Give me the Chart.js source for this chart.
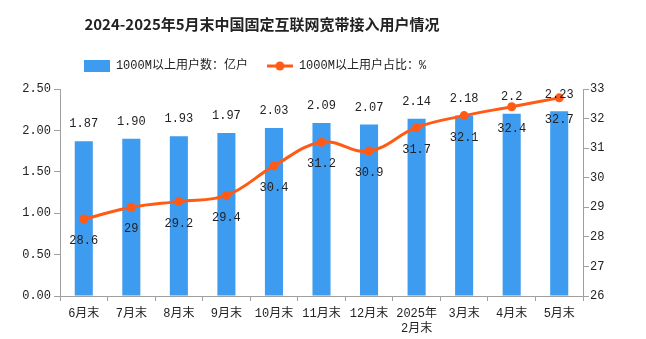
<!DOCTYPE html>
<html>
<head>
<meta charset="utf-8">
<script src="https://cdn.jsdelivr.net/npm/chart.js@4/dist/chart.umd.min.js"></script>
<style>
  body { margin: 0; background: #fff; }
  #wrap { width: 646px; height: 339px; }
</style>
</head>
<body>
<div id="wrap"><canvas id="myChart"></canvas></div>
<script>
const months = ['6月末', '7月末', '8月末', '9月末', '10月末', '11月末', '12月末', ['2025年', '2月末'], '3月末', '4月末', '5月末'];
// 1000M以上用户数（亿户），kept as text so the label reads exactly as written
const userCounts = ['1.87', '1.90', '1.93', '1.97', '2.03', '2.09', '2.07', '2.14', '2.18', '2.2', '2.23'];
// 1000M以上用户占比（%）
const userShare = [28.6, 29, 29.2, 29.4, 30.4, 31.2, 30.9, 31.7, 32.1, 32.4, 32.7];
const countTicks = [0, 0.5, 1, 1.5, 2, 2.5];
const shareTicks = [26, 27, 28, 29, 30, 31, 32, 33];

const BLUE = '#3d9bf0';
const ORANGE = '#ff5b16';
const AXIS = '#a0a0a0';
const TEXT = '#222';
const MONO = "'Liberation Mono', 'Noto Sans CJK SC', monospace";

const ctx = document.getElementById('myChart');

// small icons for the legend
function legendIcon(kind) {
    const c = document.createElement('canvas');
    c.width = 26;
    c.height = 12;
    const g = c.getContext('2d');
    if (kind === 'bar') {
        g.fillStyle = BLUE;
        g.fillRect(0, 0, 26, 12);
    } else {
        g.strokeStyle = ORANGE;
        g.lineWidth = 3;
        g.beginPath();
        g.moveTo(0, 6);
        g.lineTo(26, 6);
        g.stroke();
        g.fillStyle = ORANGE;
        g.beginPath();
        g.arc(13, 6, 4.5, 0, Math.PI * 2);
        g.fill();
    }
    return c;
}

// value labels: counts above the bars, shares under the points
const valueLabels = {
    id: 'valueLabels',
    afterDatasetsDraw(chart) {
        const c = chart.ctx;
        c.save();
        c.font = '12px ' + MONO;
        c.fillStyle = TEXT;
        c.textAlign = 'center';
        c.textBaseline = 'middle';
        chart.getDatasetMeta(0).data.forEach((bar, i) => {
            c.fillText(userCounts[i], bar.x, bar.y - 17);
        });
        chart.getDatasetMeta(1).data.forEach((pt, i) => {
            c.fillText(String(userShare[i]), pt.x, pt.y + 22);
        });
        c.restore();
    }
};

// title and legend sit a little left of the canvas centre; the extra top
// padding only pushes the plot down, so lift the header boxes back up
const shiftHeader = {
    id: 'shiftHeader',
    afterLayout(chart) {
        const t = chart.titleBlock;
        const l = chart.legend;
        t.right -= 122;
        t.top -= 9;
        t.bottom -= 9;
        l.right -= 136;
        l.top -= 7;
        l.bottom -= 7;
    }
};

new Chart(ctx, {
    type: 'bar',
    data: {
        labels: months,
        datasets: [
            {
                label: '1000M以上用户数：亿户',
                data: userCounts,
                backgroundColor: BLUE,
                categoryPercentage: 1,
                barPercentage: 0.38,
                yAxisID: 'y',
                order: 1
            },
            {
                type: 'line',
                label: '1000M以上用户占比：%',
                data: userShare,
                borderColor: ORANGE,
                backgroundColor: ORANGE,
                borderWidth: 3,
                pointRadius: 4.5,
                pointBorderWidth: 0,
                tension: 0.4,
                yAxisID: 'y1',
                order: 0
            }
        ]
    },
    options: {
        responsive: true,
        maintainAspectRatio: false,
        animation: false,
        layout: { padding: { top: 9 } },
        plugins: {
            title: {
                display: true,
                text: '2024-2025年5月末中国固定互联网宽带接入用户情况',
                color: TEXT,
                font: { family: "'Noto Sans CJK SC'", size: 15, weight: 'bold' },
                padding: { top: 15, bottom: 6 }
            },
            legend: {
                labels: {
                    usePointStyle: true,
                    pointStyleWidth: 26,
                    boxHeight: 12,
                    padding: 19,
                    color: TEXT,
                    font: { family: MONO, size: 12 },
                    generateLabels: chart => chart.data.datasets.map((ds, i) => ({
                        text: ds.label,
                        pointStyle: legendIcon(i === 0 ? 'bar' : 'line'),
                        fontColor: TEXT,
                        lineWidth: 0,
                        datasetIndex: i
                    }))
                }
            },
            tooltip: { enabled: false }
        },
        scales: {
            x: {
                grid: { display: true, drawOnChartArea: false, color: AXIS, tickLength: 5 },
                border: { color: AXIS },
                ticks: { color: TEXT, font: { family: MONO, size: 12 }, padding: 6, maxRotation: 0 },
                afterFit: s => { s.height = 43; }
            },
            y: {
                position: 'left',
                min: countTicks[0],
                max: countTicks[countTicks.length - 1],
                grid: { display: true, drawOnChartArea: false, color: AXIS, tickLength: 6 },
                border: { color: AXIS },
                ticks: {
                    stepSize: countTicks[1] - countTicks[0],
                    color: TEXT,
                    font: { family: MONO, size: 12 },
                    padding: 3,
                    callback: v => v.toFixed(2)
                },
                afterFit: s => { s.width = 60; }
            },
            y1: {
                position: 'right',
                min: shareTicks[0],
                max: shareTicks[shareTicks.length - 1],
                grid: { display: true, drawOnChartArea: false, color: AXIS, tickLength: 6 },
                border: { color: AXIS },
                ticks: {
                    stepSize: shareTicks[1] - shareTicks[0],
                    color: TEXT,
                    font: { family: MONO, size: 12 },
                    padding: 1
                },
                afterFit: s => { s.width = 63; }
            }
        }
    },
    plugins: [valueLabels, shiftHeader]
});
</script>
</body>
</html>
